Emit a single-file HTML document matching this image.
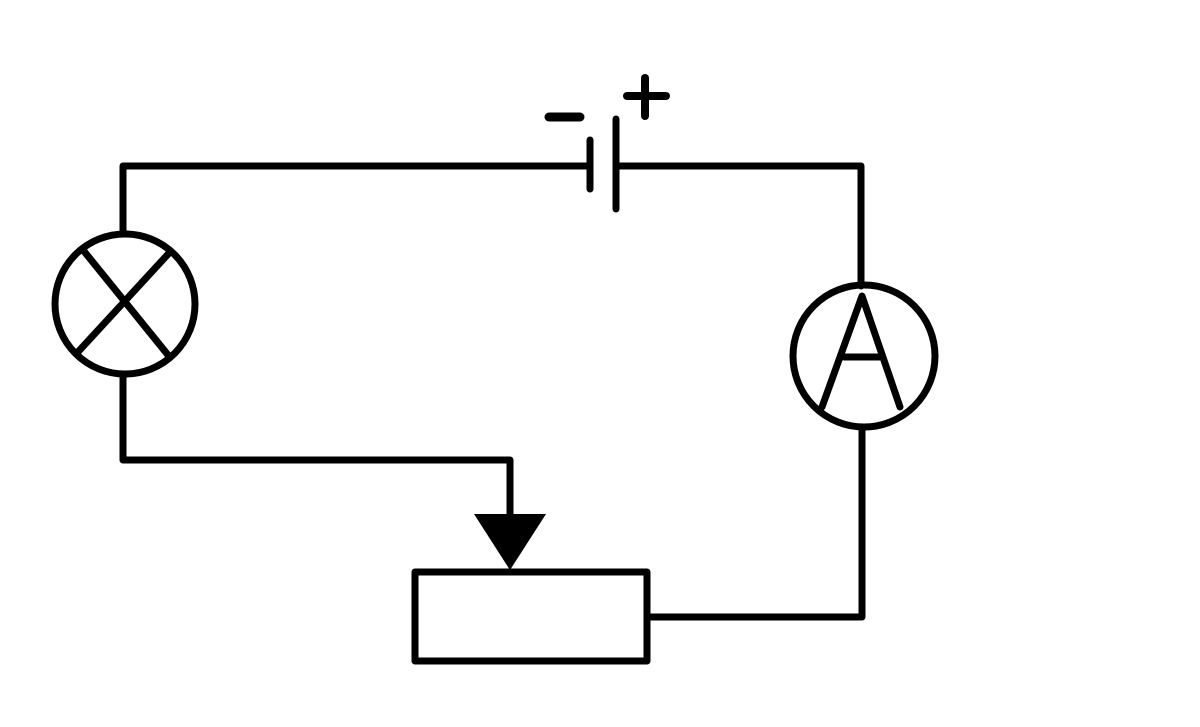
<!DOCTYPE html>
<html><head><meta charset="utf-8"><style>html,body{margin:0;padding:0;background:#fff;}svg{display:block}</style></head>
<body>
<svg width="1200" height="727" viewBox="0 0 1200 727" xmlns="http://www.w3.org/2000/svg">
<g fill="none" stroke="#000" stroke-width="7" stroke-linecap="round" stroke-linejoin="round">
<polyline points="123,234 123,166 590,166"/>
<polyline points="616,166 861,166 861,286"/>
<line x1="590" y1="140" x2="590" y2="189"/>
<line x1="616" y1="119" x2="616" y2="209"/>
<line x1="549" y1="117" x2="580" y2="117" stroke-width="9"/>
<line x1="627" y1="96" x2="666" y2="96" stroke-width="8"/>
<line x1="645" y1="78" x2="645" y2="116" stroke-width="8"/>
<circle cx="125" cy="304" r="70"/>
<line x1="83" y1="250" x2="168" y2="355"/>
<line x1="170" y1="252" x2="77" y2="353"/>
<polyline points="123,374 123,460 510,460 510,516"/>
<rect x="415" y="572" width="232" height="89"/>
<polyline points="647,617 862,617 862,428"/>
<circle cx="864" cy="356" r="71"/>
<polyline points="822,407 862,296 900,407"/>
<line x1="844" y1="357" x2="880" y2="357"/>
</g>
<polygon points="474,514 546,514 510,570" fill="#000"/>
</svg>
</body></html>
